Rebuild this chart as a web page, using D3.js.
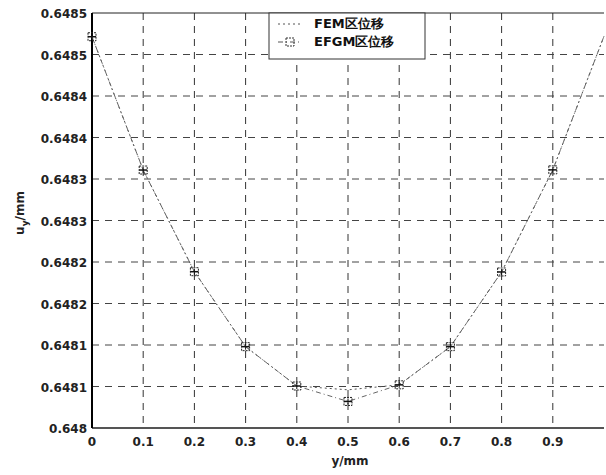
<!DOCTYPE html>
<html><head><meta charset="utf-8">
<script src="https://cdn.jsdelivr.net/npm/d3@7"></script>
<style>body{margin:0;background:#fff}svg{display:block}text{font-family:"DejaVu Sans","Liberation Sans",Arial,sans-serif}</style>
</head><body><svg id="c" width="606" height="475"></svg>
<script>
const xs = [0,0.1,0.2,0.3,0.4,0.5,0.6,0.7,0.8,0.9,1.0];
const efgm = [0.6484714,0.6483108,0.6481883,0.6480980,0.6480506,0.6480320,0.6480520,0.6480980,0.6481880,0.6483110,0.6484720];
const fem  = [0.6484714,0.6483108,0.6481883,0.6480980,0.6480506,0.6480460,0.6480520,0.6480980,0.6481880,0.6483110,0.6484720];
const xTicks = [0,0.1,0.2,0.3,0.4,0.5,0.6,0.7,0.8,0.9];
const xTickLabels = ["0","0.1","0.2","0.3","0.4","0.5","0.6","0.7","0.8","0.9"];
const yTicks = [0.648,0.64805,0.6481,0.64815,0.6482,0.64825,0.6483,0.64835,0.6484,0.64845,0.6485];
const yTickLabels = ["0.648","0.6481","0.6481","0.6482","0.6482","0.6483","0.6483","0.6484","0.6484","0.6485","0.6485"];
const legendLabels = ["FEM区位移","EFGM区位移"];

const svg = d3.select("#c");
const L=92, R=604, T=13, B=428;
const x = d3.scaleLinear().domain([0,1]).range([L,R]);
const y = d3.scaleLinear().domain([0.648,0.6485]).range([B,T]);

// grid
svg.append("g").selectAll("line").data(xTicks.slice(1)).join("line")
  .attr("x1",d=>x(d)).attr("x2",d=>x(d)).attr("y1",T).attr("y2",B)
  .attr("stroke","#333").attr("stroke-width",1).attr("stroke-dasharray","7,6");
svg.append("g").selectAll("line").data(yTicks.slice(1,-1)).join("line")
  .attr("x1",L).attr("x2",R).attr("y1",d=>y(d)).attr("y2",d=>y(d))
  .attr("stroke","#444").attr("stroke-width",1).attr("stroke-dasharray","7,6");

// axes lines
svg.append("line").attr("x1",L).attr("x2",R).attr("y1",T).attr("y2",T).attr("stroke","#222").attr("stroke-width",1);
svg.append("line").attr("x1",L).attr("x2",R).attr("y1",B).attr("y2",B).attr("stroke","#555").attr("stroke-width",2);
svg.append("line").attr("x1",L).attr("x2",L).attr("y1",T).attr("y2",B).attr("stroke","#000").attr("stroke-width",2);

// tick labels
svg.append("g").selectAll("text").data(xTicks).join("text")
  .attr("x",d=>x(d)).attr("y",B+18).attr("text-anchor","middle")
  .attr("font-size",12).attr("font-weight","bold").attr("fill","#222")
  .text((d,i)=>xTickLabels[i]);
svg.append("g").selectAll("text").data(yTicks).join("text")
  .attr("x",L-5).attr("y",d=>y(d)+5).attr("text-anchor","end")
  .attr("font-size",12).attr("font-weight","bold").attr("fill","#222")
  .text((d,i)=>yTickLabels[i]);

// axis titles
svg.append("text").attr("x",350).attr("y",465).attr("text-anchor","middle")
  .attr("font-size",12).attr("font-weight","bold").attr("fill","#222").text("y/mm");
const yl = svg.append("text").attr("transform","translate(24,213) rotate(-90)")
  .attr("text-anchor","middle").attr("font-size",12).attr("font-weight","bold").attr("fill","#222");
yl.append("tspan").text("u");
yl.append("tspan").attr("dy",4).attr("font-size",9).text("y");
yl.append("tspan").attr("dy",-4).text("/mm");

// lines
const line = d3.line().x((d,i)=>x(xs[i])).y(d=>y(d));
svg.append("path").datum(fem).attr("d",line).attr("fill","none")
  .attr("stroke","#555").attr("stroke-width",1).attr("stroke-dasharray","2,3");
svg.append("path").datum(efgm).attr("d",line).attr("fill","none")
  .attr("stroke","#666").attr("stroke-width",1).attr("stroke-dasharray","5,3,1,3");
// markers
const mk = svg.append("g").selectAll("g").data(efgm.slice(0,10)).join("g")
  .attr("transform",(d,i)=>`translate(${x(xs[i])},${y(d)})`);
mk.append("rect").attr("x",-4).attr("y",-4).attr("width",8).attr("height",8)
  .attr("fill","none").attr("stroke","#222").attr("stroke-width",1).attr("stroke-dasharray","2,1");
mk.append("line").attr("x1",-4).attr("x2",4).attr("y1",0).attr("y2",0).attr("stroke","#111").attr("stroke-width",1.5);
mk.append("line").attr("x1",0).attr("x2",0).attr("y1",-3).attr("y2",3).attr("stroke","#111");

// legend
const lg = svg.append("g");
lg.append("rect").attr("x",269).attr("y",T).attr("width",156).attr("height",46)
  .attr("fill","#fff").attr("stroke","#333").attr("stroke-width",1);
lg.append("line").attr("x1",278).attr("x2",302).attr("y1",24).attr("y2",24)
  .attr("stroke","#555").attr("stroke-dasharray","2,3");
lg.append("line").attr("x1",278).attr("x2",302).attr("y1",42).attr("y2",42)
  .attr("stroke","#555").attr("stroke-dasharray","5,3,1,3");
lg.append("rect").attr("x",286).attr("y",38).attr("width",8).attr("height",8)
  .attr("fill","none").attr("stroke","#333").attr("stroke-dasharray","2,1");
lg.selectAll("text.l").data(legendLabels).join("text").attr("class","l")
  .attr("x",314).attr("y",(d,i)=>28+i*18).attr("font-size",13).attr("font-weight","bold")
  .attr("fill","#111").text(d=>d);
</script></body></html>
